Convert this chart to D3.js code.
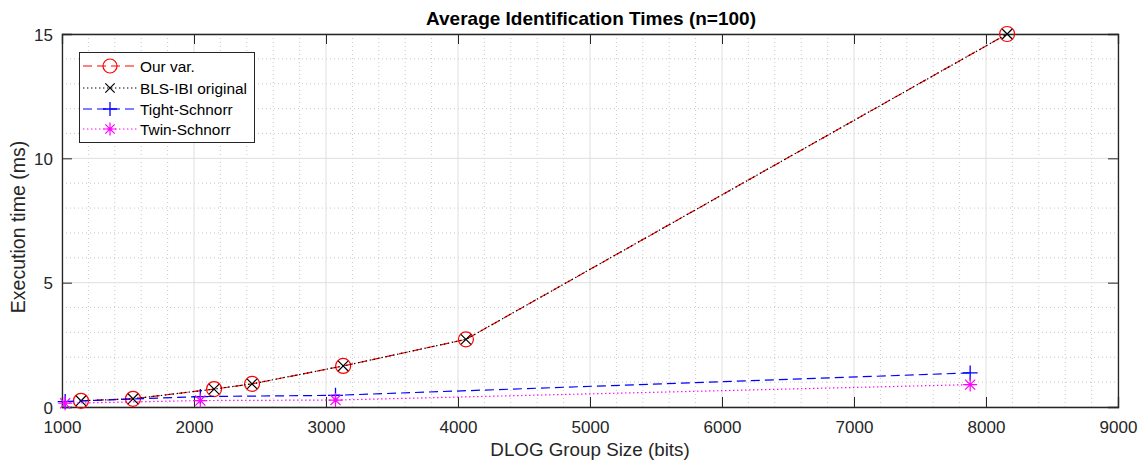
<!DOCTYPE html>
<meta charset="utf-8">
<style>
    body { margin: 0; background: #fff; }
    svg { font-family: "Liberation Sans", Arial, sans-serif; }
    .major { stroke: #dfdfdf; stroke-width: 1; }
    .minor { stroke: #c8c8c8; stroke-width: 1; stroke-dasharray: 1, 3; }
</style>
<body>
<script src="https://d3js.org/d3.v7.min.js"></script>
<script>
    // data
    var ourBits = [1144, 1538, 2152, 2440, 3130, 4060, 8160];
    var ourTimes = [0.25, 0.33, 0.72, 0.93, 1.65, 2.72, 15.0];
    var blsBits = [1144, 1538, 2152, 2440, 3130, 4060, 8160];
    var blsTimes = [0.25, 0.33, 0.72, 0.93, 1.65, 2.72, 15.0];
    var tightBits = [1024, 2048, 3072, 7880];
    var tightTimes = [0.22, 0.42, 0.47, 1.37];
    var twinBits = [1024, 2048, 3072, 7880];
    var twinTimes = [0.15, 0.26, 0.28, 0.9];

    var xTicks = [1000, 2000, 3000, 4000, 5000, 6000, 7000, 8000, 9000];
    var yTicks = [0, 5, 10, 15];

    var W = 1141, H = 460;
    var plotL = 62, plotR = 1118, plotT = 34, plotB = 407;

    var svg = d3.select("body").append("svg")
        .attr("width", W)
        .attr("height", H);

    var x = d3.scaleLinear().domain([1000, 9000]).range([plotL, plotR]);
    var y = d3.scaleLinear().domain([0, 15]).range([plotB, plotT]);

    // grid: minor dotted, major solid
    var g = svg.append("g");
    d3.range(1000, 9001, 200).filter(v => v % 1000 != 0).forEach(function (v) {
        g.append("line").attr("class", "minor")
            .attr("x1", x(v)).attr("x2", x(v)).attr("y1", plotT).attr("y2", plotB);
    });
    d3.range(0, 15.01, 1).filter(v => v % 5 != 0).forEach(function (v) {
        g.append("line").attr("class", "minor")
            .attr("x1", plotL).attr("x2", plotR).attr("y1", y(v)).attr("y2", y(v));
    });
    xTicks.forEach(function (v) {
        g.append("line").attr("class", "major")
            .attr("x1", x(v)).attr("x2", x(v)).attr("y1", plotT).attr("y2", plotB);
    });
    yTicks.forEach(function (v) {
        g.append("line").attr("class", "major")
            .attr("x1", plotL).attr("x2", plotR).attr("y1", y(v)).attr("y2", y(v));
    });

    // axes with inward ticks
    var axCol = "#262626";
    var fmt = d3.format("d");
    var xAxis = svg.append("g").attr("transform", "translate(0," + plotB + ")")
        .call(d3.axisBottom(x).tickValues(xTicks).tickFormat(fmt).tickSize(-10).tickPadding(14));
    var xAxisTop = svg.append("g").attr("transform", "translate(0," + plotT + ")")
        .call(d3.axisTop(x).tickValues(xTicks).tickSize(-10).tickFormat(""));
    var yAxis = svg.append("g").attr("transform", "translate(" + plotL + ",0)")
        .call(d3.axisLeft(y).tickValues(yTicks).tickFormat(fmt).tickSize(-10).tickPadding(9));
    var yAxisR = svg.append("g").attr("transform", "translate(" + plotR + ",0)")
        .call(d3.axisRight(y).tickValues(yTicks).tickSize(-10).tickFormat(""));
    [xAxis, xAxisTop, yAxis, yAxisR].forEach(function (a) {
        a.selectAll(".domain").attr("stroke", axCol).attr("stroke-width", 1.3);
        a.selectAll(".tick line").attr("stroke", axCol).attr("stroke-width", 1);
        a.selectAll("text").attr("fill", "#262626").attr("font-size", "17px")
            .attr("font-family", "Liberation Sans, Arial, sans-serif");
    });
    yAxis.selectAll("text").attr("dy", "0.36em");

    // markers
    function marker(sel, type, color, size) {
        var r = size / 2;
        if (type == "o") {
            sel.append("circle").attr("r", r).attr("fill", "none")
                .attr("stroke", color).attr("stroke-width", 1.2);
        } else if (type == "x") {
            var a = r * 0.72;
            sel.append("path").attr("d", `M${-a},${-a}L${a},${a}M${-a},${a}L${a},${-a}`)
                .attr("stroke", color).attr("stroke-width", 1.2).attr("fill", "none");
        } else if (type == "+") {
            sel.append("path").attr("d", `M${-r},0L${r},0M0,${-r}L0,${r}`)
                .attr("stroke", color).attr("stroke-width", 1.3).attr("fill", "none");
        } else if (type == "*") {
            var b = r * 0.72;
            sel.append("path").attr("d", `M${-r},0L${r},0M0,${-r}L0,${r}M${-b},${-b}L${b},${b}M${-b},${b}L${b},${-b}`)
                .attr("stroke", color).attr("stroke-width", 1.2).attr("fill", "none");
        }
    }

    var series = [
        { name: "Our var.", xs: ourBits, ys: ourTimes, color: "#ff0000", dash: "9,5", mark: "o", size: 15 },
        { name: "BLS-IBI original", xs: blsBits, ys: blsTimes, color: "#000000", dash: "1.4,2.6", mark: "x", size: 14 },
        { name: "Tight-Schnorr", xs: tightBits, ys: tightTimes, color: "#0000ff", dash: "9,5", mark: "+", size: 15 },
        { name: "Twin-Schnorr", xs: twinBits, ys: twinTimes, color: "#ff00ff", dash: "1.4,2.6", mark: "*", size: 14 }
    ];

    var line = d3.line().x(d => x(d[0])).y(d => y(d[1]));
    series.forEach(function (s) {
        var pts = s.xs.map((v, i) => [v, s.ys[i]]);
        svg.append("path").datum(pts).attr("d", line)
            .attr("fill", "none").attr("stroke", s.color).attr("stroke-width", 1.2)
            .attr("stroke-dasharray", s.dash);
        svg.append("g").selectAll("g").data(pts).enter().append("g")
            .attr("transform", d => `translate(${x(d[0])},${y(d[1])})`)
            .each(function () { marker(d3.select(this), s.mark, s.color, s.size); });
    });

    // legend
    var lg = svg.append("g");
    lg.append("rect").attr("x", 79.5).attr("y", 52.5).attr("width", 175).attr("height", 90)
        .attr("fill", "#fff").attr("stroke", "#262626").attr("stroke-width", 1);
    var rowY = [66, 88, 109, 129];
    series.forEach(function (s, i) {
        lg.append("line").attr("x1", 83).attr("x2", 137).attr("y1", rowY[i]).attr("y2", rowY[i])
            .attr("stroke", s.color).attr("stroke-width", 1.2).attr("stroke-dasharray", s.dash);
        var m = lg.append("g").attr("transform", `translate(110,${rowY[i]})`);
        marker(m, s.mark, s.color, s.size - 1);
        lg.append("text").attr("x", 140).attr("y", rowY[i]).attr("dy", "0.36em")
            .attr("font-size", "15.4px").attr("fill", "#000").text(s.name);
    });

    // title and labels
    svg.append("text").attr("x", 591).attr("y", 25).attr("text-anchor", "middle")
        .attr("font-size", "19px").attr("font-weight", "bold").attr("fill", "#000")
        .text("Average Identification Times (n=100)");
    svg.append("text").attr("x", 590).attr("y", 456).attr("text-anchor", "middle")
        .attr("font-size", "18.8px").attr("fill", "#262626")
        .text("DLOG Group Size (bits)");
    svg.append("text").attr("transform", "translate(25,227) rotate(-90)")
        .attr("text-anchor", "middle")
        .attr("font-size", "19.5px").attr("fill", "#262626")
        .text("Execution time (ms)");
</script>
</body>
